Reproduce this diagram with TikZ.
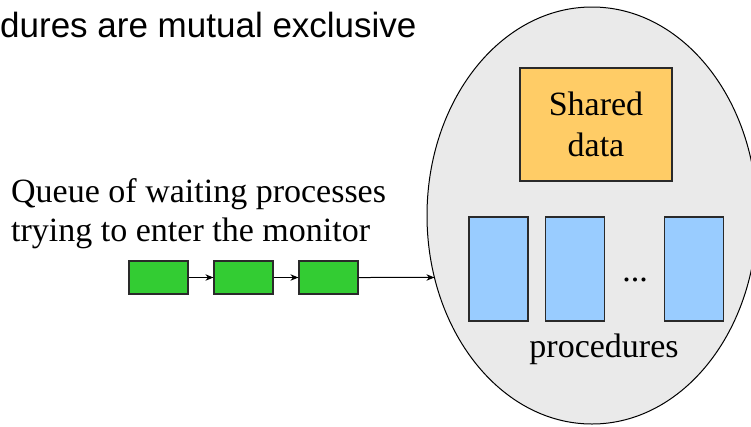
\documentclass[tikz,border=0pt]{standalone}
\usepackage{fontspec}
\setmainfont{Liberation Serif}
\newfontfamily\headfont{Liberation Sans}
\usetikzlibrary{shapes.geometric,arrows.meta,intersections}

\definecolor{monfill}{HTML}{EAEAEA}
\definecolor{procgreen}{HTML}{33CC33}
\definecolor{datafill}{HTML}{FFCC66}
\definecolor{procblue}{HTML}{99CCFF}
\definecolor{boxline}{HTML}{2A2A2A}

\tikzset{
  serif34/.style={font=\fontsize{34}{41}\selectfont},
  waitbox/.style={draw=boxline, line width=1.2pt, fill=procgreen,
    minimum width=59pt, minimum height=33pt, inner sep=0pt},
  procbox/.style={draw=boxline, line width=1.2pt, fill=procblue,
    minimum width=59pt, minimum height=104pt, inner sep=0pt},
  databox/.style={draw=boxline, line width=1.2pt, fill=datafill,
    minimum width=152pt, minimum height=113pt, inner sep=0pt, align=center},
  link/.style={line width=1pt, -{Stealth[length=8pt,width=6.5pt]}}
}

\begin{document}
\begin{tikzpicture}[x=1pt, y=-1pt]
  \useasboundingbox (0,0) rectangle (751,426);

  % heading, running off the left edge
  \node[anchor=base west, inner sep=0pt, font=\headfont\fontsize{35}{42}\selectfont]
    (head) at (0,37) {dures are mutual exclusive};

  % the monitor
  \node[ellipse, draw=black, line width=1pt, fill=monfill, inner sep=0pt,
        minimum width=330pt, minimum height=417pt, name path=monborder]
    (mon) at (592,215.5) {};

  \node[databox, serif34] (data) at (596,124.5) {Shared\\data};

  \node[procbox] (p1) at (498.5,269) {};
  \node[procbox] (p2) at (575,269) {};
  \node[procbox] (p3) at (694,269) {};
  \node[serif34, anchor=base, inner sep=0pt] (dots) at (635,281) {...};
  \node[serif34, anchor=base, inner sep=0pt] (procs) at (604,357) {procedures};

  % entry queue
  \node[serif34, anchor=base west, inner sep=0pt] (q1) at (11,202) {Queue of waiting processes};
  \node[serif34, anchor=base west, inner sep=0pt] (q2) at (11,241) {trying to enter the monitor};

  \node[waitbox] (w1) at (158.5,277.5) {};
  \node[waitbox] (w2) at (243.5,277.5) {};
  \node[waitbox] (w3) at (328.5,277.5) {};

  \draw[link] (w1) -- (w2);
  \draw[link] (w2) -- (w3);
  \path[name path=entryray] (w3.east) -- ++(150,0);
  \path[name intersections={of=entryray and monborder, by=entry}];
  \draw[link] (w3) -- (entry);
\end{tikzpicture}
\end{document}
